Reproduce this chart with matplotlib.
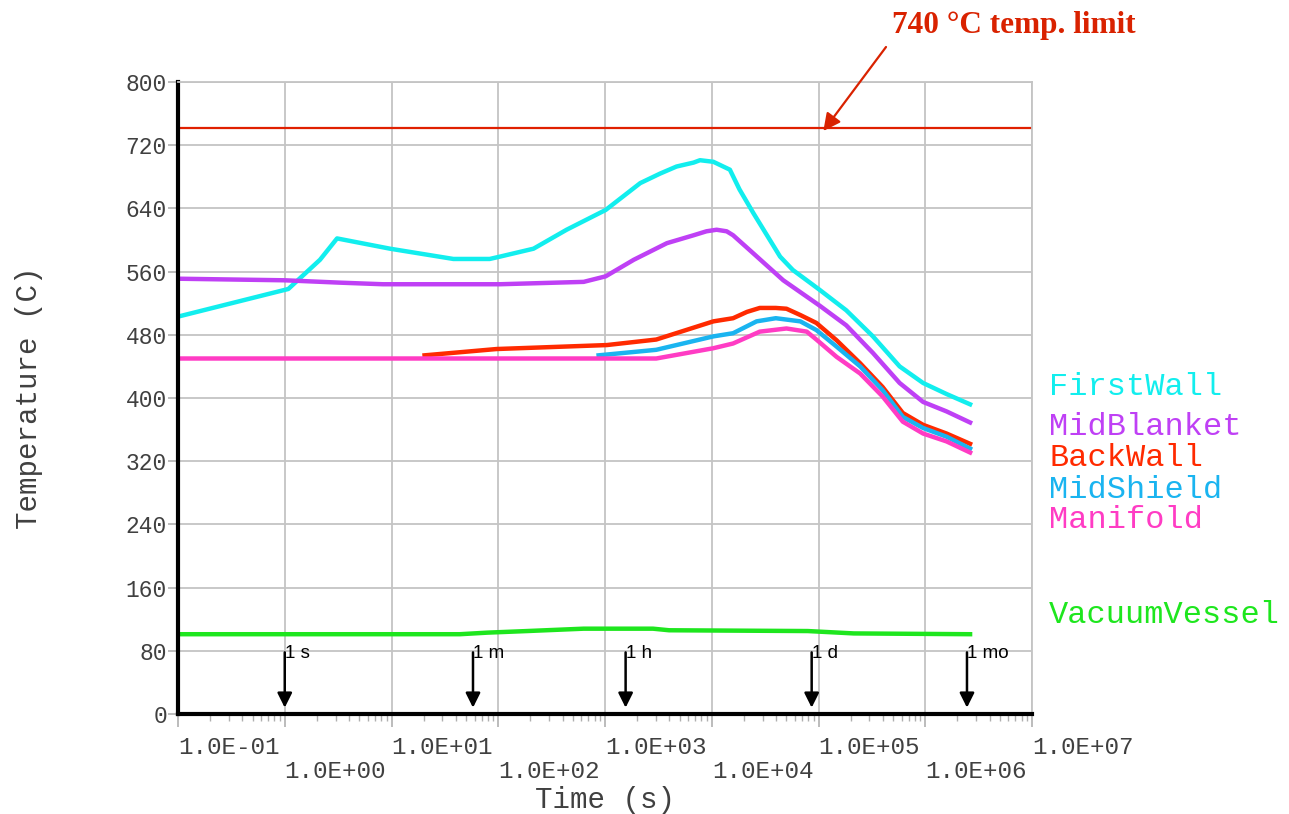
import numpy as np
import matplotlib.pyplot as plt
from matplotlib.ticker import LogLocator, NullFormatter

# Time (s) and temperature (C)
t_first = [0.1, 1.08, 2.14, 3.09, 9.68, 38.0, 83.2, 104, 214, 437, 1014, 2138, 3273,
           4677, 6761, 7762, 10350, 14790, 18200, 24550, 43650, 57540, 102300, 182000,
           323600, 575400, 955000, 1.585e6, 2.63e6]
T_first = [503, 538, 575, 602, 589, 576, 576, 579, 589, 613, 638, 672, 684,
           693, 698, 701, 699, 689, 664, 634, 579, 562, 537, 511,
           478, 440, 419, 405, 392]

t_mid = [0.1, 1.0, 3.3, 8.3, 104, 631, 1014, 1862, 3802, 6761, 8913, 11100, 13800,
         15850, 24550, 46770, 102300, 182000, 323600, 575400, 955000, 1.585e6, 2.63e6]
T_mid = [551, 549, 546, 544, 544, 547, 554, 575, 596, 606, 611, 613, 611,
         606, 583, 549, 517, 492, 457, 419, 395, 383, 369]

t_back = [20.4, 96.6, 1038, 3020, 10350, 15850, 21380, 28180, 39810, 50120, 67610,
          95500, 147900, 245500, 398100, 616600, 955000, 1.585e6, 2.63e6]
T_back = [454, 462, 467, 474, 497, 501, 509, 514, 514, 513, 505,
          495, 473, 444, 414, 381, 366, 355, 342]

t_shield = [871, 3020, 10350, 15850, 26300, 39810, 67610, 95500, 147900,
            245500, 398100, 616600, 955000, 1.585e6, 2.63e6]
T_shield = [454, 461, 478, 482, 497, 501, 497, 486, 465,
            440, 410, 376, 362, 351, 336]

t_manif = [0.1, 3020, 10350, 15850, 28180, 50120, 77620, 95500, 147900,
           245500, 398100, 616600, 955000, 1.585e6, 2.63e6]
T_manif = [450, 450, 463, 469, 484, 488, 484, 474, 452,
           431, 402, 370, 355, 345, 331]

t_vv = [0.1, 43.7, 79.4, 186, 631, 2818, 3981, 79430, 213800, 2.63e6]
T_vv = [101, 101, 103, 105, 108, 108, 106, 105, 102, 101]

series = [
    ("FirstWall", t_first, T_first, "#12eeee"),
    ("MidBlanket", t_mid, T_mid, "#bf40f5"),
    ("BackWall", t_back, T_back, "#ff2a00"),
    ("MidShield", t_shield, T_shield, "#1ab4f0"),
    ("Manifold", t_manif, T_manif, "#ff3cc4"),
    ("VacuumVessel", t_vv, T_vv, "#1ee61e"),
]
label_y = [387, 427, 458, 490, 520, 615]   # pixel rows of the right-hand labels

limit_T = 742
markers = [1.0, 58, 1560, 86300, 2.46e6]
marker_names = ["1 s", "1 m", "1 h", "1 d", "1 mo"]

mono = "Liberation Mono"
grey = "#404040"

fig = plt.figure(figsize=(12.89, 8.14), dpi=100)
ax = fig.add_axes([178/1289, 1 - 714/814, (1032 - 178)/1289, (714 - 82)/814])

for (name, t, T, c) in series:
    ax.plot(t, T, color=c, lw=3.2, solid_joinstyle="round")

ax.axhline(limit_T, color="#e02000", lw=1.6)

ax.set_xscale("log")
ax.set_xlim(0.1, 1e7)
ax.set_ylim(0, 800)

# decade labels, alternating rows, left-aligned on the tick
xt = 10.0 ** np.arange(-1, 8)
xl = []
for i, v in enumerate(xt):
    s = "1.0E%+03d" % np.log10(v)
    xl.append(s if i % 2 == 0 else "\n" + s)
ax.set_xticks(xt)
ax.set_xticklabels(xl, ha="left", family=mono, fontsize=17.5, color=grey,
                   linespacing=1.08)
ax.xaxis.set_minor_locator(LogLocator(base=10, subs=np.arange(2, 10)))
ax.xaxis.set_minor_formatter(NullFormatter())
ax.tick_params(axis="x", which="major", length=9, color="#b0b0b0", width=1.2, pad=6.5)
ax.tick_params(axis="x", which="minor", length=5, color="#b0b0b0", width=1.0)

ax.set_yticks(np.arange(0, 801, 80))
ax.set_yticklabels([str(v) for v in range(0, 801, 80)], family=mono,
                   fontsize=16.5, color=grey)
ax.tick_params(axis="y", which="major", length=7, color="#b0b0b0", width=1.2, pad=1)

ax.grid(True, which="major", color="#c4c4c4", lw=1.3)
ax.set_axisbelow(True)
for side in ["top", "right"]:
    ax.spines[side].set_color("#c4c4c4")
    ax.spines[side].set_linewidth(1.3)
for side in ["left", "bottom"]:
    ax.spines[side].set_color("black")
    ax.spines[side].set_linewidth(3)

ax.set_xlabel("Time (s)", family=mono, fontsize=21, color=grey)
ax.set_ylabel("Temperature (C)", family=mono, fontsize=21, color=grey)
ax.xaxis.set_label_coords(0.5, -0.114)
ax.yaxis.set_label_coords(-0.158, 0.5)

# time markers
for t, s in zip(markers, marker_names):
    ax.annotate("", xy=(t, 8), xytext=(t, 78),
                arrowprops=dict(arrowstyle="-|>", color="black", lw=1.8,
                                mutation_scale=22, shrinkA=0, shrinkB=0))
    ax.text(t, 77, s, ha="left", va="center", fontsize=13.5,
            family="Liberation Sans", color="black")

# right-hand labels
for (name, t, T, c), yp in zip(series, label_y):
    fig.text(1049/1289, 1 - yp/814, name, family=mono, fontsize=23, color=c,
             ha="left", va="center")

# limit note
fig.text(892/1289, 1 - 26/814, "740 \u00b0C temp. limit", family="Liberation Serif",
         fontsize=22.5, weight="bold", color="#d92200", ha="left", va="center")
ax.annotate("", xy=(1.11e5, limit_T - 4), xytext=(886, 814 - 47),
            textcoords="figure pixels", annotation_clip=False,
            arrowprops=dict(arrowstyle="-|>", color="#d92200", lw=1.6,
                            mutation_scale=26, shrinkA=0, shrinkB=0))

fig.savefig("out.png", dpi=100)
